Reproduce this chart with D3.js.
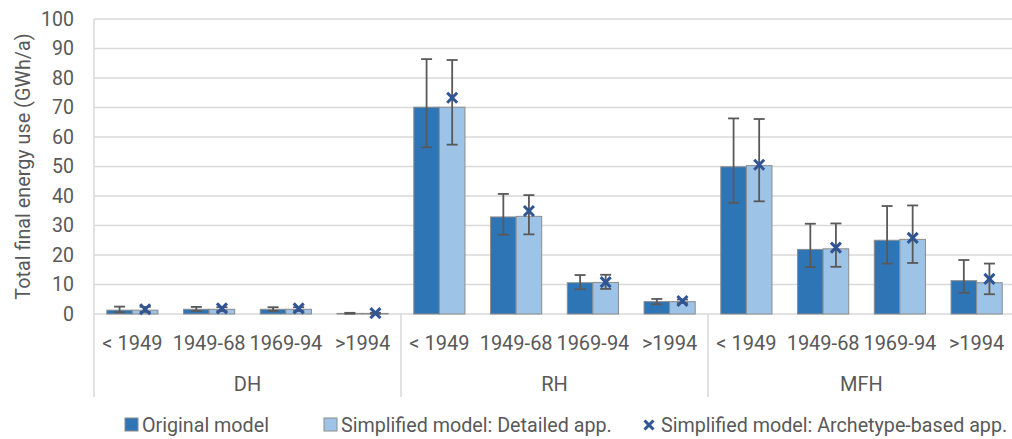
<!DOCTYPE html>
<html>
<head>
<meta charset="utf-8">
<script src="https://cdn.jsdelivr.net/npm/d3@7"></script>
<style>
  body { margin: 0; background: #fff; }
  text { font-family: Roboto, sans-serif; fill: #595959; }
</style>
</head>
<body>
<svg id="canvas" width="1012" height="439"></svg>
<script>
// building types and construction periods
const groups = ["DH", "RH", "MFH"];
const periods = ["< 1949", "1949-68", "1969-94", ">1994"];
const yTicks = [0, 10, 20, 30, 40, 50, 60, 70, 80, 90, 100];

// original model: value, lower and upper error
const originalVals = [1.3, 1.6, 1.6, 0.2, 70.1, 32.9, 10.6, 4.2, 49.9, 21.9, 25.0, 11.3];
const originalLow = [0.6, 1.0, 1.0, 0.1, 56.5, 26.9, 8.4, 3.3, 37.7, 15.9, 17.1, 7.2];
const originalHigh = [2.5, 2.4, 2.3, 0.4, 86.4, 40.7, 13.2, 5.1, 66.3, 30.6, 36.6, 18.3];

// simplified model, detailed approach
const detailedVals = [1.3, 1.6, 1.6, 0.2, 70.1, 33.1, 10.7, 4.2, 50.3, 22.1, 25.3, 10.6];
const detailedLow = [0.7, 1.0, 1.0, 0.1, 57.4, 27.0, 8.5, 3.7, 38.2, 16.0, 17.3, 6.7];
const detailedHigh = [2.4, 2.3, 2.3, 0.4, 86.1, 40.3, 13.3, 4.9, 66.1, 30.7, 36.8, 17.1];

// simplified model, archetype-based approach
const archetypeVals = [1.6, 1.9, 1.9, 0.3, 73.3, 34.9, 10.8, 4.4, 50.6, 22.5, 25.8, 11.9];

const seriesNames = ["Original model", "Simplified model: Detailed app.", "Simplified model: Archetype-based app."];
const colors = ["#2e75b6", "#9dc3e6", "#2f5597"];

const svg = d3.select("#canvas");

const plotLeft = 94, plotRight = 1015, plotTop = 19, plotBottom = 314;

// one slot per group/period pair
const slots = [];
groups.forEach((g) => periods.forEach((p) => slots.push(g + "|" + p)));

const x0 = d3.scaleBand().domain(slots).range([plotLeft, plotRight]);
const xg = d3.scaleBand().domain(groups).range([plotLeft, plotRight]);
const x1 = d3.scaleBand().domain(["orig", "det"]).range([0, x0.bandwidth()])
  .paddingInner(0).paddingOuter(0.5);
const y = d3.scaleLinear().domain([0, 100]).range([plotBottom, plotTop]);

// gridlines
svg.append("g")
  .selectAll("line")
  .data(yTicks)
  .join("line")
  .attr("x1", plotLeft).attr("x2", plotRight)
  .attr("y1", (d) => y(d)).attr("y2", (d) => y(d))
  .attr("stroke", "#d9d9d9").attr("stroke-width", 1.5);

// y tick labels
svg.append("g")
  .selectAll("text")
  .data(yTicks)
  .join("text")
  .attr("x", 74).attr("y", (d) => y(d))
  .attr("dy", "0.35em")
  .attr("text-anchor", "end")
  .attr("font-size", 19.5)
  .text((d) => d);

// y title
svg.append("text")
  .attr("transform", `translate(23,${(plotTop + plotBottom) / 2}) rotate(-90)`)
  .attr("text-anchor", "middle")
  .attr("dy", "0.35em")
  .attr("font-size", 19.8)
  .text("Total final energy use (GWh/a)");

// category axis frame
const frameX = [plotLeft].concat(groups.map((g) => xg(g) + xg.bandwidth()));
svg.append("g")
  .selectAll("line")
  .data(frameX)
  .join("line")
  .attr("x1", (d) => d).attr("x2", (d) => d)
  .attr("y1", (d, i) => (i == 0 ? plotTop : plotBottom)).attr("y2", 397)
  .attr("stroke", "#d9d9d9").attr("stroke-width", 1.5);

// bars
const barData = [];
slots.forEach((s, i) => {
  barData.push({ slot: s, key: "orig", v: originalVals[i], lo: originalLow[i], hi: originalHigh[i] });
  barData.push({ slot: s, key: "det", v: detailedVals[i], lo: detailedLow[i], hi: detailedHigh[i] });
});

svg.append("g")
  .selectAll("rect")
  .data(barData)
  .join("rect")
  .attr("x", (d) => x0(d.slot) + x1(d.key))
  .attr("y", (d) => y(d.v))
  .attr("width", x1.bandwidth())
  .attr("height", (d) => y(0) - y(d.v))
  .attr("fill", (d) => (d.key == "orig" ? colors[0] : colors[1]))
  .attr("stroke", "#8c8c8c").attr("stroke-width", 1);

// error bars
const errG = svg.append("g").attr("stroke", "#595959").attr("stroke-width", 1.8);
barData.forEach((d) => {
  const cx = x0(d.slot) + x1(d.key) + x1.bandwidth() / 2;
  errG.append("line").attr("x1", cx).attr("x2", cx).attr("y1", y(d.lo)).attr("y2", y(d.hi));
  errG.append("line").attr("x1", cx - 5.5).attr("x2", cx + 5.5).attr("y1", y(d.lo)).attr("y2", y(d.lo));
  errG.append("line").attr("x1", cx - 5.5).attr("x2", cx + 5.5).attr("y1", y(d.hi)).attr("y2", y(d.hi));
});

// archetype markers
const cross = (sel, s) => {
  sel.append("line").attr("x1", -s).attr("y1", -s).attr("x2", s).attr("y2", s);
  sel.append("line").attr("x1", -s).attr("y1", s).attr("x2", s).attr("y2", -s);
};
svg.append("g")
  .selectAll("g")
  .data(archetypeVals)
  .join("g")
  .attr("transform", (d, i) => `translate(${x0(slots[i]) + x1("det") + x1.bandwidth() / 2},${y(d)})`)
  .attr("stroke", colors[2]).attr("stroke-width", 3)
  .each(function () { cross(d3.select(this), 5); });

// period labels
svg.append("g")
  .selectAll("text")
  .data(slots)
  .join("text")
  .attr("x", (d) => x0(d) + x0.bandwidth() / 2)
  .attr("y", 343)
  .attr("dy", "0.35em")
  .attr("text-anchor", "middle")
  .attr("font-size", 20)
  .text((d) => d.split("|")[1]);

// group labels
svg.append("g")
  .selectAll("text")
  .data(groups)
  .join("text")
  .attr("x", (d) => xg(d) + xg.bandwidth() / 2)
  .attr("y", 384)
  .attr("dy", "0.35em")
  .attr("text-anchor", "middle")
  .attr("font-size", 20)
  .text((d) => d);

// legend
const legendX = [125, 324, 642];
const legend = svg.append("g");
seriesNames.forEach((name, i) => {
  const lg = legend.append("g").attr("transform", `translate(${legendX[i]},425)`);
  if (i < 2) {
    lg.append("rect").attr("x", 0).attr("y", -7).attr("width", 13).attr("height", 13)
      .attr("fill", colors[i]).attr("stroke", "#8c8c8c").attr("stroke-width", 1);
  } else {
    const m = lg.append("g").attr("transform", "translate(7,0)")
      .attr("stroke", colors[2]).attr("stroke-width", 3);
    cross(m, 4.5);
  }
  lg.append("text").attr("x", i < 2 ? 17 : 19).attr("y", 0).attr("dy", "0.35em")
    .attr("font-size", 19.7).text(name);
});
</script>
</body>
</html>
